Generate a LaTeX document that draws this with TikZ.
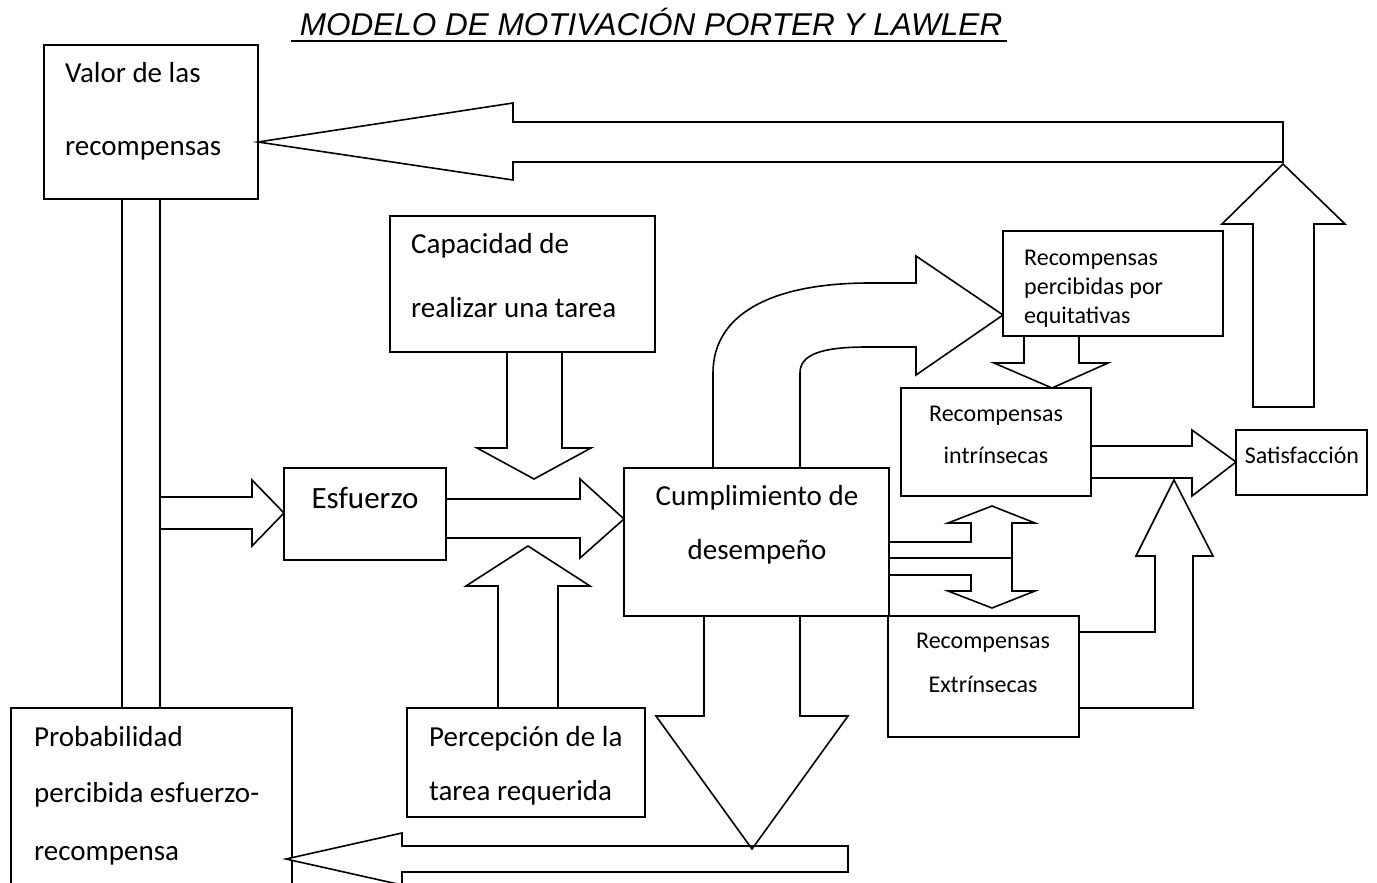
\documentclass[tikz,border=0pt]{standalone}
\usepackage{fontspec}
\setmainfont{Carlito}
\newfontfamily\titlefont{Liberation Sans}
\tikzset{
  box/.style={draw, line width=1.8pt, inner sep=0pt, outer sep=0pt, anchor=north west},
  blk/.style={draw, line width=1.6pt, line join=miter, fill=white},
  big/.style={inner sep=0pt, font=\fontsize{29}{34}\selectfont},
  bigger/.style={inner sep=0pt, font=\fontsize{31}{36}\selectfont},
  small/.style={inner sep=0pt, font=\fontsize{24}{28}\selectfont},
}
\begin{document}
\begin{tikzpicture}[x=1pt,y=-1pt]
\clip (0,0) rectangle (1377,883);
\fill[white] (0,0) rectangle (1377,883);
% title
\node[inner sep=0pt, anchor=base, font=\titlefont\itshape\fontsize{31.5}{36}\selectfont] (title) at (651,36) {MODELO DE MOTIVACIÓN PORTER Y LAWLER};
\draw[line width=2pt] (291,41) -- (1007,41);

% boxes
\node[box, minimum width=214pt, minimum height=154pt] (valor) at (44,45) {};
\node[box, minimum width=265pt, minimum height=136pt] (capac) at (390,216) {};
\node[box, minimum width=162pt, minimum height=92pt] (esf) at (284,468) {};
\node[box, minimum width=265pt, minimum height=148pt] (cumpl) at (624,468) {};
\node[box, minimum width=238pt, minimum height=109pt] (perc) at (407,708) {};
\node[box, minimum width=281pt, minimum height=190pt] (prob) at (11,708) {};
\node[box, minimum width=220pt, minimum height=105pt] (equit) at (1003,231) {};
\node[box, minimum width=190pt, minimum height=108pt] (intr) at (901,388) {};
\node[box, minimum width=131pt, minimum height=65pt] (satis) at (1236,430) {};
\node[box, minimum width=191pt, minimum height=121pt] (extr) at (888,616) {};

% texts
\node[big, anchor=base west] (t1) at (65,83) {Valor de las};
\node[big, anchor=base west] (t2) at (65,155) {recompensas};
\node[big, anchor=base west] (t3) at (411,253) {Capacidad de};
\node[big, anchor=base west] (t4) at (411,317) {realizar una tarea};
\node[bigger, anchor=base] (t5) at (365,508) {Esfuerzo};
\node[big, anchor=base] (t6) at (757,505) {Cumplimiento de};
\node[big, anchor=base] (t7) at (757,559) {desempeño};
\node[big, anchor=base west] (t8) at (429,746) {Percepción de la};
\node[big, anchor=base west] (t9) at (429,800) {tarea requerida};
\node[big, anchor=base west] (t10) at (34,746) {Probabilidad};
\node[big, anchor=base west] (t11) at (34,802) {percibida esfuerzo-};
\node[big, anchor=base west] (t12) at (34,860) {recompensa};
\node[small, anchor=base west] (t13) at (1024,265) {Recompensas};
\node[small, anchor=base west] (t14) at (1024,294) {percibidas por};
\node[small, anchor=base west] (t15) at (1024,323) {equitativas};
\node[small, anchor=base] (t16) at (996,421) {Recompensas};
\node[small, anchor=base] (t17) at (996,463) {intrínsecas};
\node[small, anchor=base] (t18) at (1302,463) {Satisfacción};
\node[small, anchor=base] (t19) at (983,648) {Recompensas};
\node[small, anchor=base] (t20) at (983,692) {Extrínsecas};

% vertical bar Valor -> Probabilidad
\draw[blk] (122,199) rectangle (160,708);

% top big arrow to Valor
\draw[blk] (1283,122) -- (513,122) -- (513,103) -- (258,142) -- (513,180) -- (513,162) -- (1283,162) -- cycle;
% up arrow top right
\draw[blk] (1253,407) -- (1253,224) -- (1222,224) -- (1283,164) -- (1345,224) -- (1314,224) -- (1314,407) -- cycle;

% bar -> Esfuerzo
\draw[blk, fill=none] (160,497) -- (252,497) -- (252,480) -- (284,513) -- (252,546) -- (252,529) -- (160,529);
% Esfuerzo -> Cumplimiento
\draw[blk, fill=none] (446,499) -- (580,499) -- (580,479) -- (624,519) -- (580,558) -- (580,538) -- (446,538);
% Capacidad down arrow
\draw[blk, fill=none] (507,352) -- (507,448) -- (477,448) -- (534,479) -- (591,448) -- (562,448) -- (562,352);
% Percepcion up arrow
\draw[blk, fill=none] (498,708) -- (498,586) -- (466,586) -- (528,546) -- (590,586) -- (558,586) -- (558,708);

% bottom arrow to Probabilidad
\draw[blk] (848,846) -- (402,846) -- (402,833) -- (286,859) -- (402,885) -- (402,872) -- (848,872) -- cycle;
% big down arrow from Cumplimiento
\draw[blk, fill=none] (704,616) -- (704,716) -- (656,716) -- (752,849) -- (848,716) -- (800,716) -- (800,616);

% curved arrow Cumplimiento -> equitativas
\draw[blk, fill=none] (713,468) -- (713,373) .. controls (713,315) and (770,283) .. (870,283) -- (916,283) -- (916,256) -- (1003,315) -- (916,375) -- (916,347) -- (867,347) .. controls (820,347) and (800,355) .. (800,373) -- (800,468);

% equitativas -> intrinsecas
\draw[blk, fill=none] (1024,336) -- (1024,363) -- (994,363) -- (1052,388) -- (1108,363) -- (1079,363) -- (1079,336);

% intrinsecas -> Satisfaccion
\draw[blk, fill=none] (1091,446) -- (1192,446) -- (1192,430) -- (1236,462) -- (1192,496) -- (1192,478) -- (1091,478);

% extrinsecas -> Satisfaccion
\draw[blk, fill=none] (1079,632) -- (1155,632) -- (1155,556) -- (1136,556) -- (1174,480) -- (1213,556) -- (1193,556) -- (1193,708) -- (1079,708);

% double arrow Cumplimiento -> intrinsecas / extrinsecas
\draw[blk, fill=none] (889,542) -- (971,542) -- (971,523) -- (948,523) -- (992,506) -- (1035,523) -- (1012,523) -- (1012,591) -- (1035,591) -- (992,608) -- (948,591) -- (971,591) -- (971,575) -- (889,575);
\draw[blk, fill=none] (889,558) -- (1012,558);
\end{tikzpicture}
\end{document}
